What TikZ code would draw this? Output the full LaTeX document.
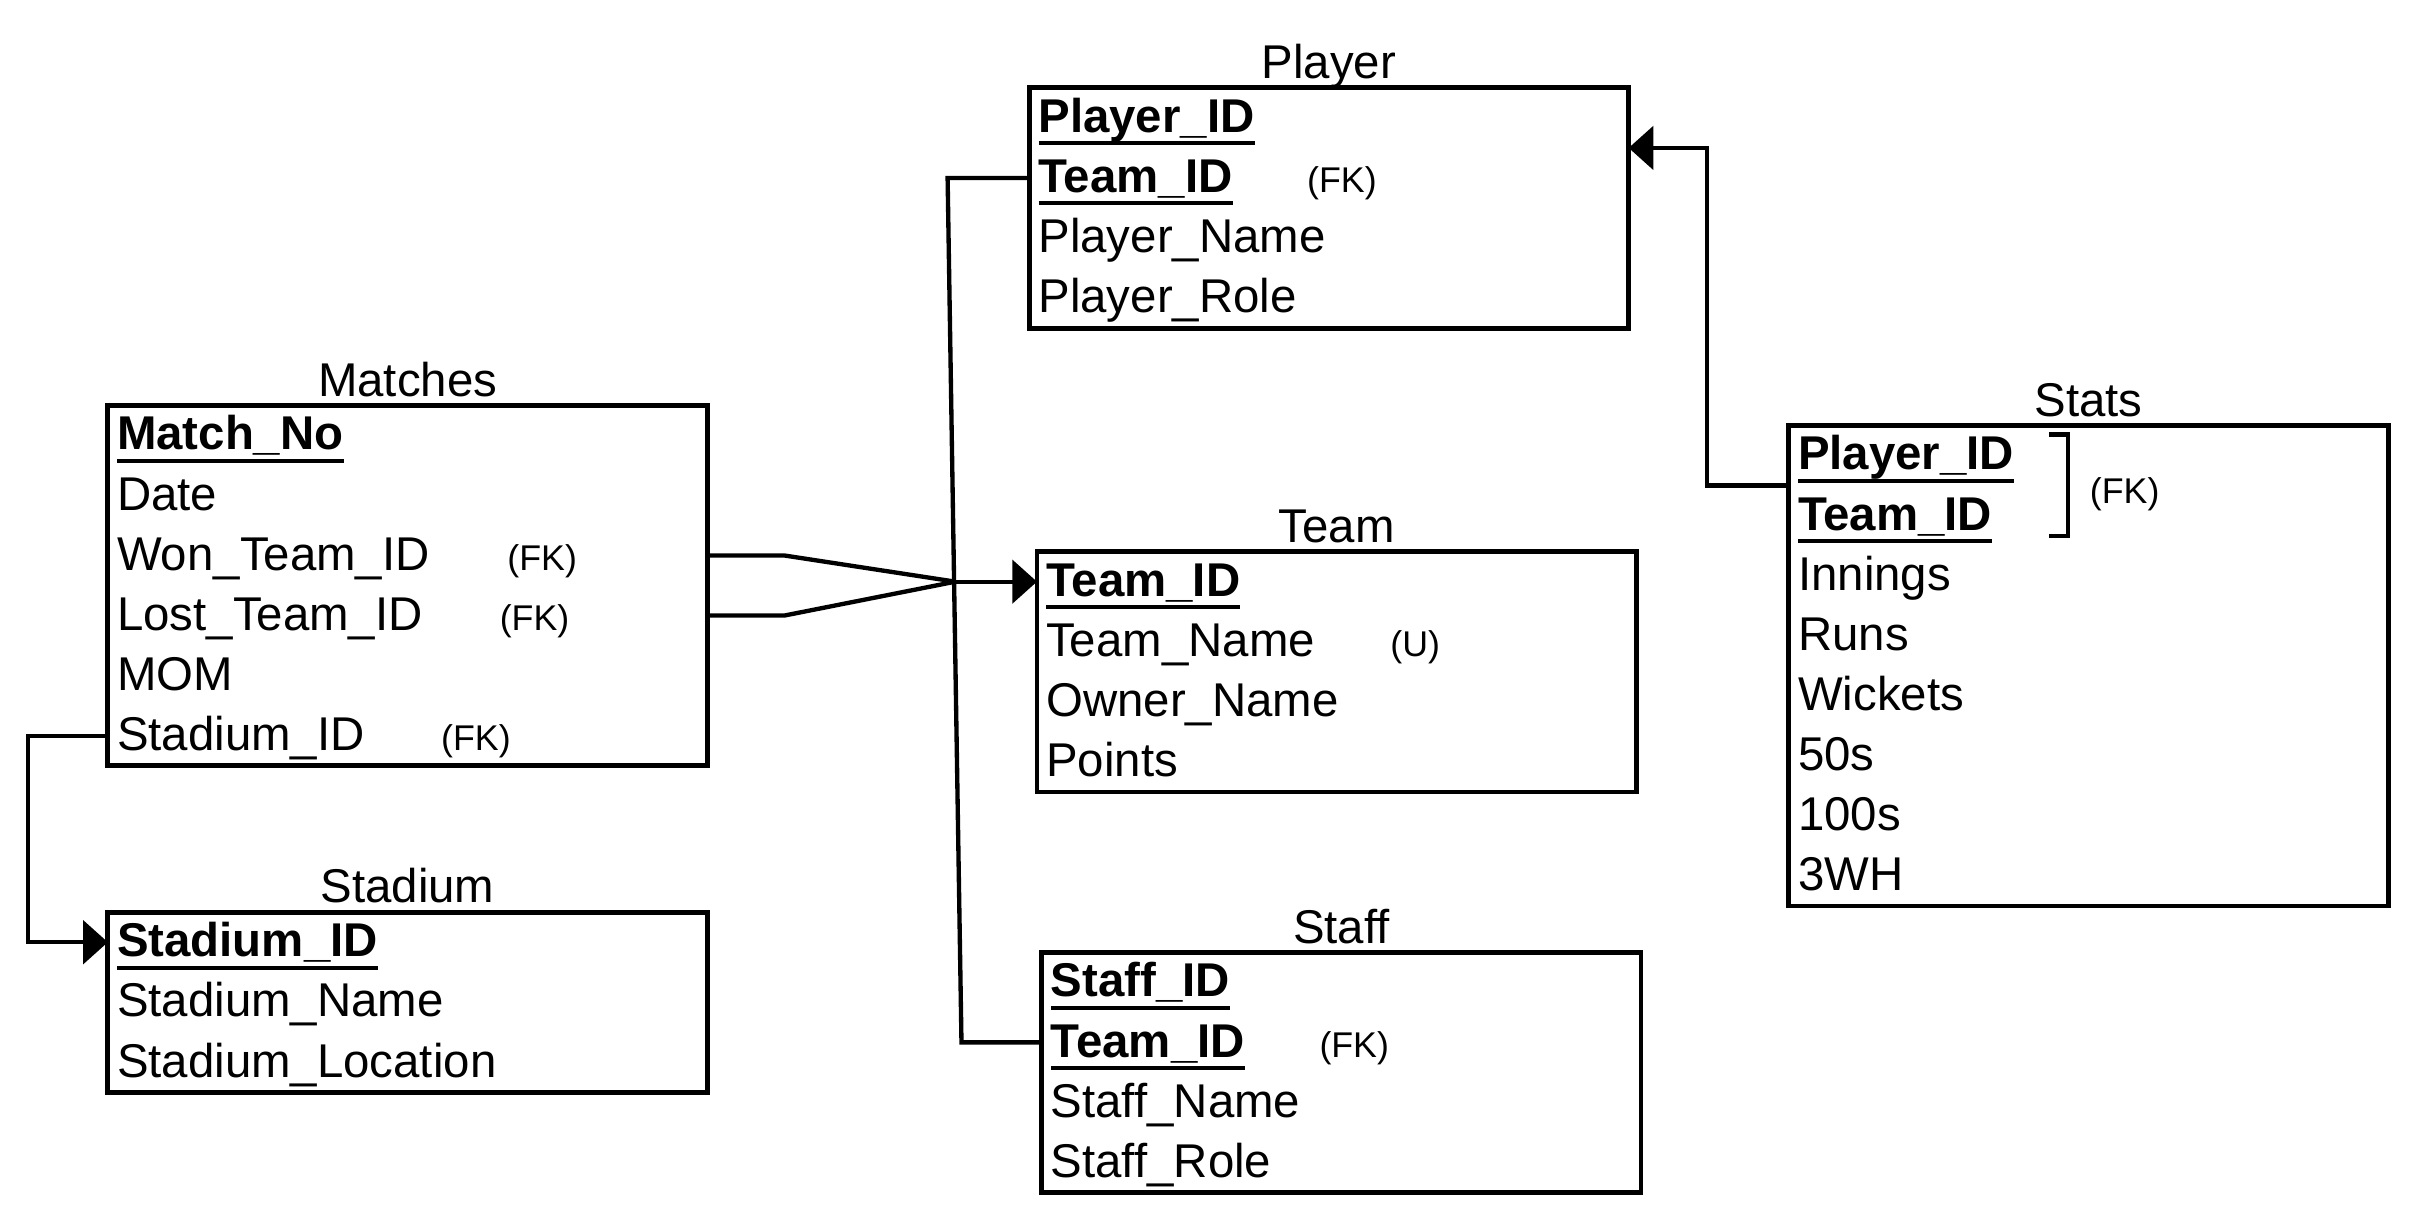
\documentclass[tikz,border=0pt]{standalone}
\usepackage{fontspec}
\setmainfont{Liberation Sans}
\usetikzlibrary{arrows.meta,positioning}

\newsavebox{\keybox}
\newcommand{\pk}[1]{\sbox{\keybox}{\textbf{#1}}\rlap{\rule[-4.7pt]{\wd\keybox}{1.5pt}}\usebox{\keybox}}

\begin{document}
\begin{tikzpicture}[
  >={Triangle[length=0.32cm,width=0.56cm]},
  row/.style={anchor=north west, minimum width=7.78cm, text width=7.54cm, inner xsep=0.12cm, inner ysep=0pt, outer sep=0pt,
              text height=0.58cm, text depth=0.20cm, align=left, font=\fontsize{17.5pt}{21pt}\selectfont},
  title/.style={anchor=base, inner sep=0pt, font=\fontsize{17.5pt}{21pt}\selectfont},
  note/.style={anchor=base west, inner sep=0pt, font=\fontsize{13.2pt}{16pt}\selectfont},
  tablebox/.style={draw=black, line width=1.8pt},
  link/.style={black, line width=1.6pt},
  fk/.style={->, black, line width=1.6pt},
]
\useasboundingbox (0,0) rectangle (31.36,-15.84);

% ---------- Player ----------
\node[row] (p1) at (13.36,-1.14) {\pk{Player\_ID}};
\node[row, below=0pt of p1] (p2) {\pk{Team\_ID}};
\node[row, below=0pt of p2] (p3) {Player\_Name};
\node[row, below=0pt of p3] (p4) {Player\_Role};
\draw[tablebox] (p1.north west) rectangle (p4.south east);
\node[title] (playerT) at ([yshift=0.12cm]p1.north) {Player};
\node[note] (pfk) at ([xshift=3.6cm]p2.base west) {(FK)};

% ---------- Matches ----------
\node[row] (m1) at (1.40,-5.26) {\pk{Match\_No}};
\node[row, below=0pt of m1] (m2) {Date};
\node[row, below=0pt of m2] (m3) {Won\_Team\_ID};
\node[row, below=0pt of m3] (m4) {Lost\_Team\_ID};
\node[row, below=0pt of m4] (m5) {MOM};
\node[row, below=0pt of m5] (m6) {Stadium\_ID};
\draw[tablebox] (m1.north west) rectangle (m6.south east);
\node[title] (matchesT) at ([yshift=0.12cm]m1.north) {Matches};
\node[note] (mfk1) at ([xshift=5.18cm]m3.base west) {(FK)};
\node[note] (mfk2) at ([xshift=5.08cm]m4.base west) {(FK)};
\node[note] (mfk3) at ([xshift=4.32cm]m6.base west) {(FK)};

% ---------- Stadium ----------
\node[row] (sd1) at (1.40,-11.84) {\pk{Stadium\_ID}};
\node[row, below=0pt of sd1] (sd2) {Stadium\_Name};
\node[row, below=0pt of sd2] (sd3) {Stadium\_Location};
\draw[tablebox] (sd1.north west) rectangle (sd3.south east);
\node[title] (stadiumT) at ([yshift=0.12cm]sd1.north) {Stadium};

% ---------- Team ----------
\node[row] (t1) at (13.46,-7.16) {\pk{Team\_ID}};
\node[row, below=0pt of t1] (t2) {Team\_Name};
\node[row, below=0pt of t2] (t3) {Owner\_Name};
\node[row, below=0pt of t3] (t4) {Points};
\draw[tablebox] (t1.north west) rectangle (t4.south east);
\node[title] (teamT) at ([yshift=0.12cm]t1.north) {Team};
\node[note] (tu) at ([xshift=4.58cm]t2.base west) {(U)};

% ---------- Staff ----------
\node[row] (st1) at (13.52,-12.36) {\pk{Staff\_ID}};
\node[row, below=0pt of st1] (st2) {\pk{Team\_ID}};
\node[row, below=0pt of st2] (st3) {Staff\_Name};
\node[row, below=0pt of st3] (st4) {Staff\_Role};
\draw[tablebox] (st1.north west) rectangle (st4.south east);
\node[title] (staffT) at ([yshift=0.12cm]st1.north) {Staff};
\node[note] (stfk) at ([xshift=3.6cm]st2.base west) {(FK)};

% ---------- Stats ----------
\node[row] (s1) at (23.22,-5.52) {\pk{Player\_ID}};
\node[row, below=0pt of s1] (s2) {\pk{Team\_ID}};
\node[row, below=0pt of s2] (s3) {Innings};
\node[row, below=0pt of s3] (s4) {Runs};
\node[row, below=0pt of s4] (s5) {Wickets};
\node[row, below=0pt of s5] (s6) {50s};
\node[row, below=0pt of s6] (s7) {100s};
\node[row, below=0pt of s7] (s8) {3WH};
\draw[tablebox] (s1.north west) rectangle (s8.south east);
\node[title] (statsT) at ([yshift=0.12cm]s1.north) {Stats};
\draw[link] ([xshift=3.38cm,yshift=-0.12cm]s1.north west) -| ([xshift=3.62cm,yshift=0.12cm]s2.south west) -- ++(-0.24,0);
\node[note] (sfk) at ([xshift=3.9cm,yshift=-0.44cm]s1.base west) {(FK)};

% ---------- relationships ----------
\coordinate (merge) at ([xshift=-1.06cm]t1.west);
\foreach \m in {m3, m4}
  \draw[link] (\m.east) -- ++(1,0) -- (merge);
\draw[fk] (merge) -- (t1.west);

\draw[link] (p2.west) -- ++(-1.06,0) -- ([xshift=-1.04cm]st2.west) -- (st2.west);
\draw[fk] (m6.west) -- ++(-1.04,0) |- (sd1.west);
\draw[fk] (s1.south west) -- ++(-1.06,0) |- (p1.south east);

\end{tikzpicture}
\end{document}
